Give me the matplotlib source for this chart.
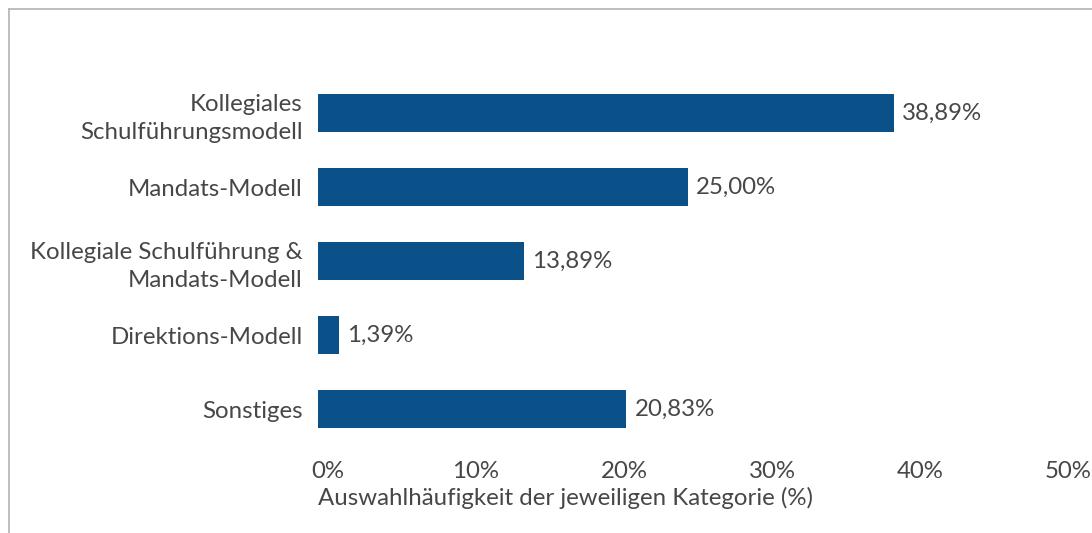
import matplotlib.pyplot as plt
import matplotlib.transforms as mtransforms
from matplotlib.lines import Line2D

categories = [
    "Kollegiales\nSchulführungsmodell",
    "Mandats-Modell",
    "Kollegiale Schulführung &\nMandats-Modell",
    "Direktions-Modell",
    "Sonstiges",
]
values = [38.89, 25.00, 13.89, 1.39, 20.83]
value_labels = ["38,89%", "25,00%", "13,89%", "1,39%", "20,83%"]
xticks = [0, 10, 20, 30, 40, 50]
xtick_labels = ["0%", "10%", "20%", "30%", "40%", "50%"]

bar_color = "#0b5189"
text_color = "#474747"
fs = 17.3
plt.rcParams["font.family"] = ["Lato", "DejaVu Sans"]
plt.rcParams["font.size"] = fs

fig = plt.figure(figsize=(10.92, 5.33), dpi=100)
ax = fig.add_axes([0.2912, 0.1632, 0.6777, 0.6942])

y = list(range(len(categories)))
ax.barh(y, values, height=0.51, color=bar_color)
ax.set_ylim(len(categories) - 0.5, -0.5)
ax.set_xlim(0, 50)

for yi, v, lab in zip(y, values, value_labels):
    ax.annotate(lab, (v, yi), xytext=(6, 0), textcoords="offset points",
                va="center", ha="left", color=text_color, fontsize=fs)

ax.set_yticks(y)
ax.set_yticklabels(categories, color=text_color, fontsize=fs, ha="right",
                   linespacing=1.4)
ax.set_xticks(xticks)
ax.set_xticklabels(xtick_labels, color=text_color, fontsize=fs)
ax.tick_params(axis="both", length=0)
ax.tick_params(axis="y", pad=11)
ax.tick_params(axis="x", pad=11)

# tick labels sit a bit to the right of the tick positions in the original
offset = mtransforms.ScaledTranslation(10 / 100, 0, fig.dpi_scale_trans)
for lbl in ax.get_xticklabels():
    lbl.set_transform(lbl.get_transform() + offset)

ax.set_xlabel("Auswahlhäufigkeit der jeweiligen Kategorie (%)", loc="left",
              color=text_color, fontsize=fs, labelpad=3)

for s in ax.spines.values():
    s.set_visible(False)

# light border on top and left (cropped frame)
fig.add_artist(Line2D([9 / 1092, 9 / 1092], [0, 1 - 9 / 533],
                      transform=fig.transFigure, color="#b3b3b3", lw=1.2))
fig.add_artist(Line2D([9 / 1092, 1], [1 - 9 / 533, 1 - 9 / 533],
                      transform=fig.transFigure, color="#b3b3b3", lw=1.2))

fig.savefig("out.png", dpi=100)
